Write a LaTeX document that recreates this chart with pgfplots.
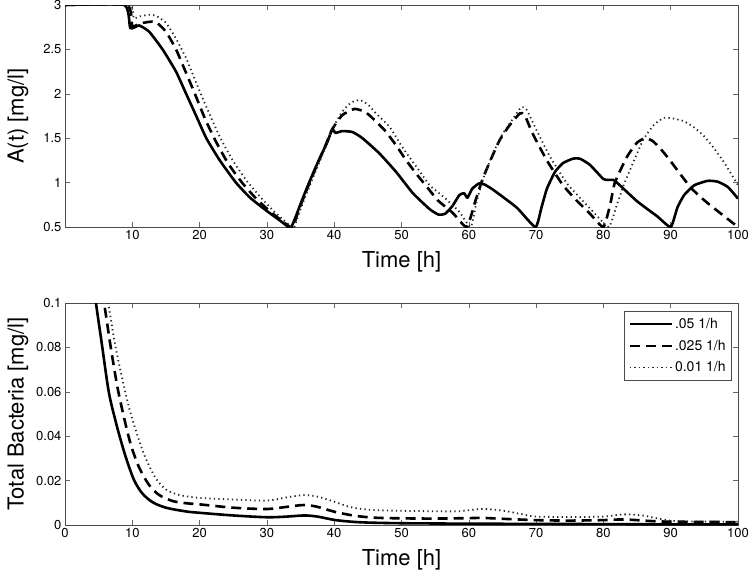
\documentclass[border=0pt]{standalone}
\usepackage{fontspec}
\setmainfont{TeX Gyre Heros}
\usepackage{pgfplots}
\pgfplotsset{compat=1.18}
\begin{document}
\begin{tikzpicture}
\pgfplotsset{
  myaxis/.style={
    scale only axis, width=673pt, height=222pt,
    xmin=0, xmax=100,
    axis line style={draw=black!70, line width=0.8pt},
    tick align=inside, tick pos=both, ticklabel pos=left,
    major tick length=5pt,
    tick style={draw=black!60, line width=0.6pt},
    tick label style={font=\fontsize{13}{15}\selectfont},
    /pgf/number format/assume math mode=true,
    label style={font=\fontsize{22}{26}\selectfont},
    ylabel style={at={(axis description cs:-0.07,0.5)}, anchor=center},
    xlabel style={at={(axis description cs:0.5,-0.155)}, anchor=center},
  },
  s1/.style={black, line width=2.6pt, line join=round},
  s2/.style={black, line width=2.6pt, dash pattern=on 10pt off 6pt},
  s3/.style={black!85, line width=1.8pt, dash pattern=on 1.3pt off 3.2pt},
}
% ---------- top axis ----------
\begin{axis}[myaxis, at={(65pt,-227pt)}, anchor=south west,
  ymin=0.5, ymax=3, ytick={0.5,1,1.5,2,2.5,3},
  xtick={10,20,...,100},
  xlabel={Time [h]}, ylabel={A(t) [mg/l]}]
\addplot[s1, smooth, tension=0.3] coordinates {
(0,3) (8.8,3) (9.7,2.74) (11,2.77) (12.5,2.70) (14.5,2.5) (16.5,2.25) (18,2.0) (19.5,1.75) (21,1.5) (23,1.25) (25.4,1.0) (27.5,0.83) (30,0.68) (32,0.57) (33.5,0.49) (34.3,0.62) (35,0.76) (36,0.95) (37,1.13) (38,1.30) (39,1.46) (39.7,1.60) (40.2,1.56) (41.2,1.58) (42.7,1.57) (44.2,1.50) (46.7,1.33) (49.2,1.12) (51.7,0.88) (54.2,0.70) (55.5,0.64) (56.5,0.65) (57.6,0.74) (58.6,0.86) (59.3,0.88) (59.8,0.83) (60.5,0.93) (61.5,0.99) (62.3,0.98) (63.6,0.92) (67.1,0.72) (69.9,0.5) (70.8,0.72) (71.6,0.93) (72.8,1.12) (74,1.22) (75.5,1.27) (76.5,1.27) (78,1.20) (80,1.04) (80.8,1.03) (81.5,1.03) (82.3,0.98) (85,0.79) (88,0.62) (90,0.5) (91,0.72) (92,0.86) (93.5,0.97) (95.5,1.02) (97,1.01) (98.5,0.95) (100,0.82)
};
\addplot[s2, smooth, tension=0.3] coordinates {
(0,3) (9.2,3) (10,2.76) (11,2.79) (12.5,2.81) (13.5,2.81) (15,2.7) (16.5,2.5) (17.8,2.27) (19.3,2.0) (20.8,1.72) (22.3,1.48) (24.2,1.22) (26.3,1.0) (28.4,0.82) (30.4,0.68) (32.4,0.56) (33.8,0.49) (34.5,0.64) (35.5,0.84) (37,1.12) (38.5,1.38) (39.7,1.6) (41.2,1.76) (43,1.83) (44.5,1.80) (45.5,1.74) (47.5,1.59) (49.2,1.42) (50.7,1.25) (52.4,1.08) (53.9,0.94) (55.4,0.80) (57.6,0.66) (59.7,0.5) (61,0.8) (62.1,1.05) (63.5,1.30) (64.6,1.48) (66,1.64) (67.6,1.78) (68.3,1.76) (69.5,1.55) (71.6,1.25) (74,0.97) (76,0.80) (78,0.65) (80,0.5) (81,0.75) (81.7,1.0) (83.5,1.29) (85,1.45) (86.2,1.5) (87.3,1.47) (88.5,1.38) (89.9,1.25) (92.9,0.95) (95,0.8) (97.3,0.66) (100,0.5)
};
\addplot[s3, smooth, tension=0.3] coordinates {
(0,3) (9.5,3) (10.2,2.85) (11,2.87) (12.5,2.89) (13.5,2.88) (15,2.8) (16.5,2.62) (18,2.4) (20,2.03) (21.6,1.75) (23.1,1.5) (25,1.24) (27,1.02) (29,0.84) (31,0.68) (32.9,0.55) (34,0.49) (34.7,0.64) (35.7,0.84) (37.2,1.12) (38.6,1.38) (39.7,1.6) (41.2,1.80) (42.5,1.90) (43.8,1.93) (45,1.88) (46.2,1.78) (48.2,1.63) (50.2,1.39) (52.2,1.18) (54.2,0.97) (56.4,0.83) (58.6,0.67) (60.3,0.5) (61.2,0.8) (62.3,1.08) (63.6,1.33) (64.8,1.52) (66.2,1.68) (67.8,1.85) (68.6,1.82) (70,1.6) (72,1.3) (74.5,1.0) (76.5,0.83) (78.5,0.67) (80.8,0.5) (82,0.75) (83,0.97) (84,1.15) (85.9,1.48) (87.5,1.65) (89,1.73) (90.5,1.72) (92,1.69) (93.5,1.62) (95,1.52) (96.5,1.38) (98,1.22) (100,0.97)
};
\end{axis}
% ---------- bottom axis ----------
\begin{axis}[myaxis, at={(65pt,-525pt)}, anchor=south west,
  ymin=0, ymax=0.1, ytick={0,0.02,0.04,0.06,0.08,0.1},
  yticklabels={0,0.02,0.04,0.06,0.08,0.1},
  xtick={0,10,...,100},
  xlabel={Time [h]}, ylabel={Total Bacteria [mg/l]},
  legend style={at={(axis description cs:0.991,0.964)}, anchor=north east,
    font=\fontsize{14}{16}\selectfont, draw=black!70, line width=0.6pt,
    inner xsep=4pt, inner ysep=5pt, row sep=6pt},
  legend cell align=left,
  legend image code/.code={\draw[#1] (0pt,0pt) -- (42pt,0pt);}]
\addplot[s1, smooth, tension=0.5] coordinates {
(4,0.115) (4.6,0.1) (5.5,0.081) (6.5,0.06) (7.5,0.047) (8.3,0.038) (9.2,0.029) (10.3,0.02) (11.5,0.0142) (13,0.0103) (15,0.0078) (18,0.0061) (20,0.0055) (25,0.0043) (30,0.0035) (33,0.0038) (35.5,0.0043) (37.5,0.0038) (40,0.0023) (42.5,0.0015) (45,0.0011) (50,0.0008) (60,0.0006) (70,0.0005) (80,0.0004) (90,0.0003) (100,0.0003)
};
\addlegendentry{.05 1/h}
\addplot[s2, smooth, tension=0.5] coordinates {
(5,0.112) (5.8,0.1) (6.8,0.08) (7.8,0.062) (8.8,0.048) (9.8,0.036) (11,0.026) (12.5,0.018) (14,0.0135) (16,0.0108) (18,0.0098) (20,0.0093) (25,0.0078) (30,0.0072) (33,0.0082) (35.5,0.009) (37.5,0.0082) (40,0.006) (43,0.0042) (46,0.0033) (50,0.003) (55,0.0029) (60,0.0031) (62,0.0032) (65,0.0028) (70,0.0022) (75,0.002) (80,0.0022) (83,0.0025) (87,0.0018) (90,0.0015) (100,0.0013)
};
\addlegendentry{.025 1/h}
\addplot[s3, smooth, tension=0.5] coordinates {
(5.5,0.11) (6.4,0.1) (7.4,0.082) (8.5,0.066) (9.6,0.052) (10.8,0.04) (12,0.03) (13.5,0.021) (15,0.016) (17,0.0135) (20,0.0122) (25,0.0115) (30,0.011) (33,0.0125) (35.5,0.0135) (37.5,0.0128) (40,0.0105) (42.5,0.008) (45.5,0.0068) (50,0.0064) (55,0.0062) (58.5,0.0062) (62,0.0072) (65,0.0065) (68,0.0048) (70,0.0038) (75,0.0036) (80,0.0038) (83,0.0048) (86,0.0042) (88,0.003) (91,0.0017) (100,0.0015)
};
\addlegendentry{0.01 1/h}
\end{axis}
\pgfresetboundingbox
\path (0pt,0pt) rectangle (750pt,-573pt);
\end{tikzpicture}
\end{document}
